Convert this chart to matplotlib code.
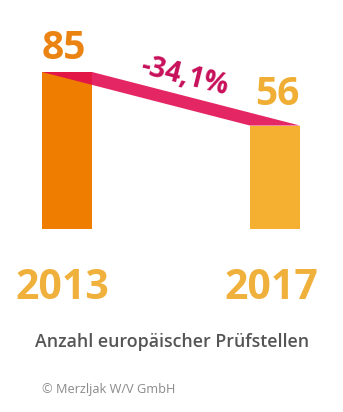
import matplotlib
matplotlib.use("Agg")
import matplotlib.pyplot as plt
from matplotlib.patches import Polygon

# Anzahl europäischer Prüfstellen, 2013 vs 2017
years = ["2013", "2017"]
counts = [85, 56]
change_label = "-34,1%"
title = "Anzahl europäischer Prüfstellen"
credit = "© Merzljak W/V GmbH"

bar_colors = ["#ee7d00", "#f5b032"]
num_colors = ["#eb8312", "#f0ae35"]
year_color = "#f0b03c"
band_color = "#e1094f"

plt.rcParams["font.family"] = ["Open Sans", "DejaVu Sans"]

W, H = 343, 412
fig = plt.figure(figsize=(W / 100, H / 100), dpi=100)

# axes laid out in pixels: bar centres 208 px apart, baseline 183 px from bottom
step = 208.0
x0_px = 67.0
xmin, xmax = -0.3, 1.3
ymax = 90
px_per_unit = 157.0 / counts[0]
ax = fig.add_axes([(x0_px + xmin * step) / W, 183 / H,
                   (xmax - xmin) * step / W, ymax * px_per_unit / H])
ax.set_xlim(xmin, xmax)
ax.set_ylim(0, ymax)
ax.axis("off")

xs = list(range(len(counts)))
bw = 50 / step
ax.bar(xs, counts, width=bw, color=bar_colors, zorder=1)

# ribbon connecting the two bar tops
band = Polygon([(xs[0] - bw / 2, counts[0]), (xs[0] + bw / 2, counts[0]),
                (xs[1] + bw / 2, counts[1]), (xs[1] - bw / 2, counts[1])],
               closed=True, facecolor=band_color, alpha=0.88, lw=0, zorder=2)
ax.add_patch(band)

# value labels above the bars
ax.text(xs[0] - 0.015, counts[0] + 2.3, str(counts[0]), ha="center", va="bottom",
        fontsize=28, fontweight="bold", color=num_colors[0])
ax.text(xs[1] + 0.01, counts[1] + 6.0, str(counts[1]), ha="center", va="bottom",
        fontsize=28, fontweight="bold", color=num_colors[1])

# change label along the ribbon
ax.text(0.565, (counts[0] + counts[1]) / 2 + 12, change_label, ha="center", va="center",
        rotation=-14, fontsize=20, fontweight="bold", color="#c8105a")

# year labels below the bars
for x, y in zip(xs, years):
    ax.text(x - 0.02, -21, y, ha="center", va="top", fontsize=29.5,
            fontweight="bold", color=year_color, clip_on=False)

fig.text(172 / W, 1 - 342 / H, title, ha="center", va="center",
         fontsize=12.8, fontweight="semibold", color="#555555")
fig.text(42 / W, 1 - 389 / H, credit, ha="left", va="center",
         fontsize=9.2, color="#8a8a8a")

fig.savefig("out.png", dpi=100, facecolor="white")
